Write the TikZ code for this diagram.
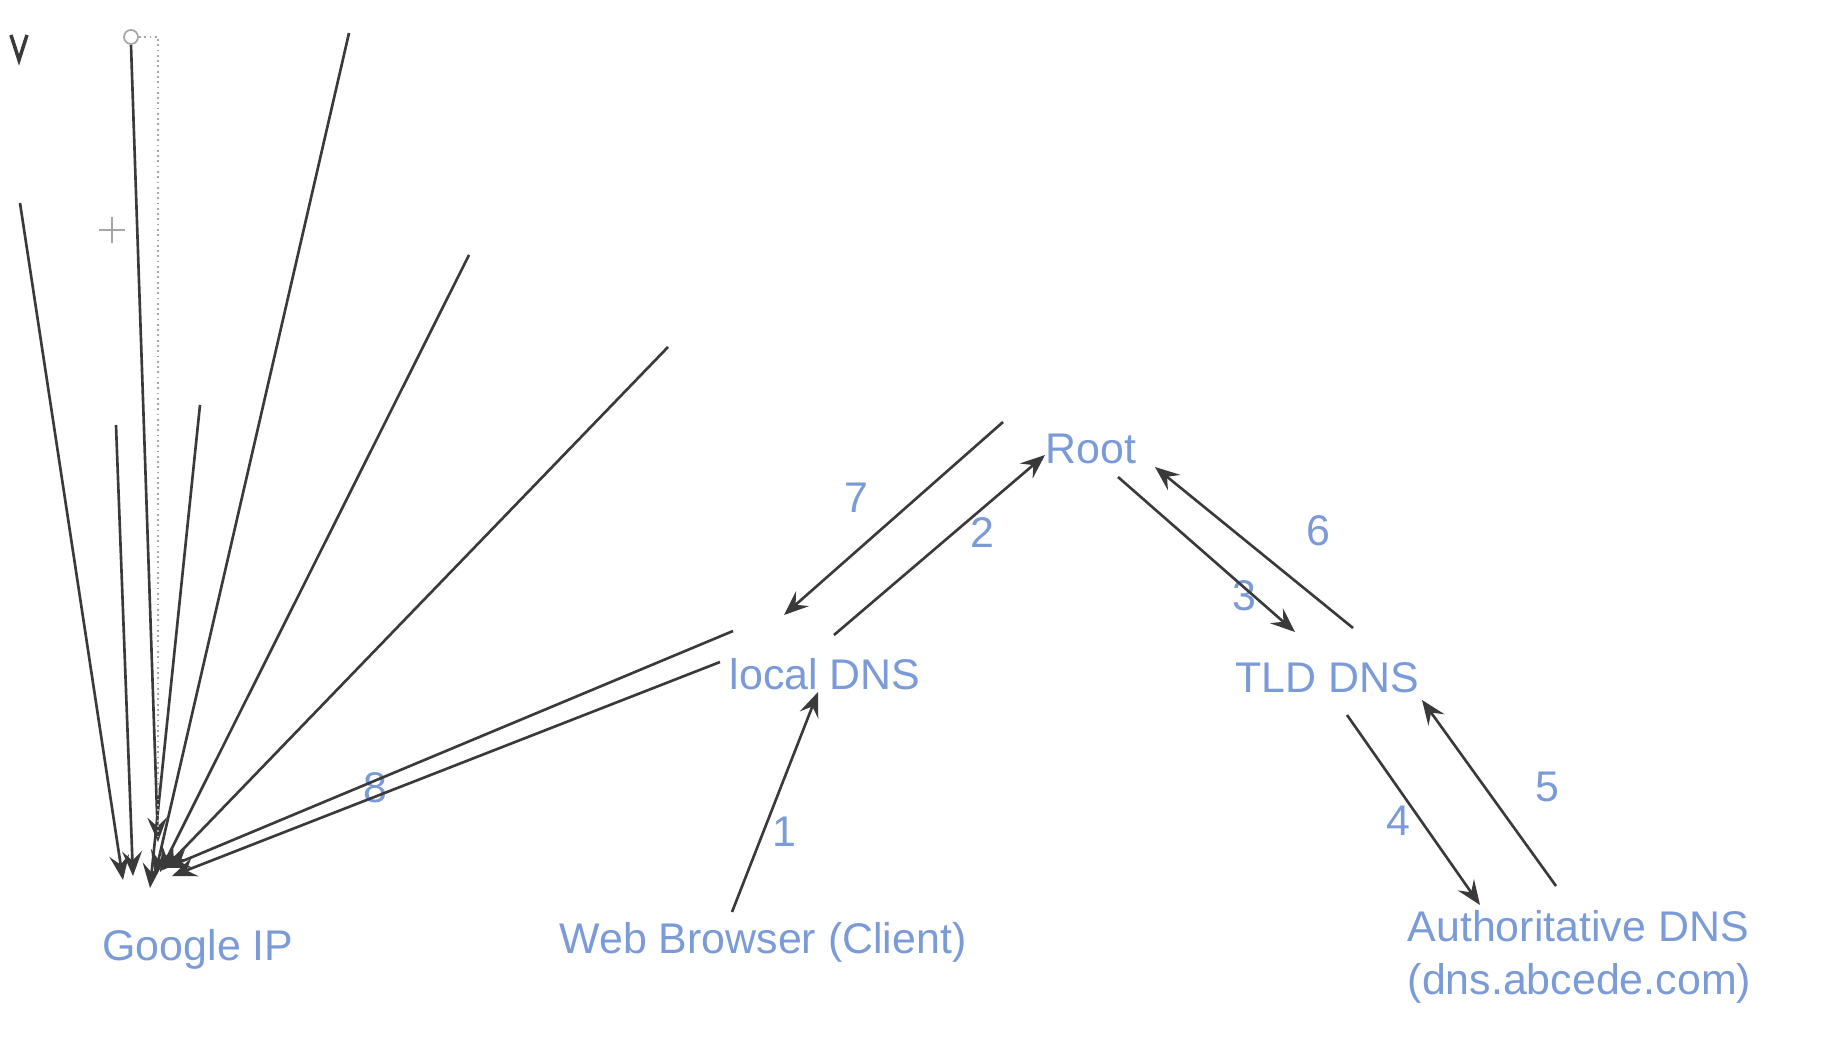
\documentclass[tikz,border=0pt]{standalone}
\usepackage{fontspec}
\setmainfont{Liberation Sans}
\usetikzlibrary{
  arrows.meta
}
\definecolor{dnsblue}{RGB}{122,155,216}
\definecolor{wire}{RGB}{58,58,58}
\tikzset{
  lbl/.style={text=dnsblue, font=\fontsize{12.2}{15}\selectfont, inner sep=0pt},
  flow/.style={draw=wire, line width=.75pt, -{Stealth[length=7pt,width=5.6pt,inset=2.6pt]}},
  shot/.style={gray!70, line width=.5pt},
}

\begin{document}
\begin{tikzpicture}[x=0.01cm, y=-0.01cm]
  \fill[white] (0,0) rectangle (1822,1040);

  % servers
  \node[lbl, anchor=base] (root) at (1091,463) {Root};
  \node[lbl, anchor=base] (local) at (825,689) {local DNS};
  \node[lbl, anchor=base] (tld) at (1327,692) {TLD DNS};
  \node[lbl, anchor=base] (web) at (763,953) {Web Browser (Client)};
  \node[lbl, anchor=base] (google) at (198,960) {Google IP};
  \node[lbl, anchor=base west, align=left] (auth) at (1407,994) {Authoritative DNS\\(dns.abcede.com)};

  % step numbers
  \node[lbl] (n1) at (784,832) {1};
  \node[lbl] (n2) at (982,533) {2};
  \node[lbl] (n3) at (1244,596) {3};
  \node[lbl] (n4) at (1398,821) {4};
  \node[lbl] (n5) at (1547,787) {5};
  \node[lbl] (n6) at (1318,531) {6};
  \node[lbl] (n7) at (856,498) {7};
  \node[lbl] (n8) at (375,788) {8};

  % query path
  \draw[flow] ([shift={(-31,-41)}]web.base) -- ([shift={(-7,3)}]local.base);
  \draw[flow] ([shift={(9,-54)}]local.base) -- ([shift={(-46,-8)}]root.base);
  \draw[flow] ([shift={(27,14)}]root.base) -- ([shift={(-32,-60)}]tld.base);
  \draw[flow] ([shift={(20,23)}]tld.base) -- ([shift={(73,-89)}]auth.base west);
  \draw[flow] ([shift={(149,-108)}]auth.base west) -- ([shift={(95,8)}]tld.base);
  \draw[flow] ([shift={(26,-64)}]tld.base) -- ([shift={(64,4)}]root.base);
  \draw[flow] ([shift={(-88,-41)}]root.base) -- ([shift={(-41,-74)}]local.base);
  \draw[flow] ([shift={(-92,-58)}]local.base) -- ([shift={(-32,-92)}]google.base);
  \draw[flow] ([shift={(-105,-27)}]local.base) -- ([shift={(-26,-84)}]google.base);

  % fan of strokes into Google IP
  \coordinate (f1) at (20,203);
  \coordinate (f2) at (131,45);
  \coordinate (f3) at (116,425);
  \coordinate (f4) at (200,405);
  \coordinate (f5) at (349,33);
  \coordinate (f6) at (469,255);
  \coordinate (f7) at (668,347);
  \foreach \f/\dx/\dy in {1/-75/-80, 2/-40/-118, 3/-65/-84, 4/-48/-72, 5/-43/-85, 6/-38/-88, 7/-35/-90}
    \draw[flow] (f\f) -- ([shift={(\dx,\dy)}]google.base);

  % screen marks
  \draw[shot, densely dotted] (139,37) -- (158,37) -- (158,840);
  \draw[shot] (f2) ++(0,-8) circle (7);
  \draw[shot] (99,230) -- (125,230) (112,217) -- (112,243);
  \draw[wire, line width=1pt] (11,35) -- (19,60) -- (27,35);
\end{tikzpicture}
\end{document}
